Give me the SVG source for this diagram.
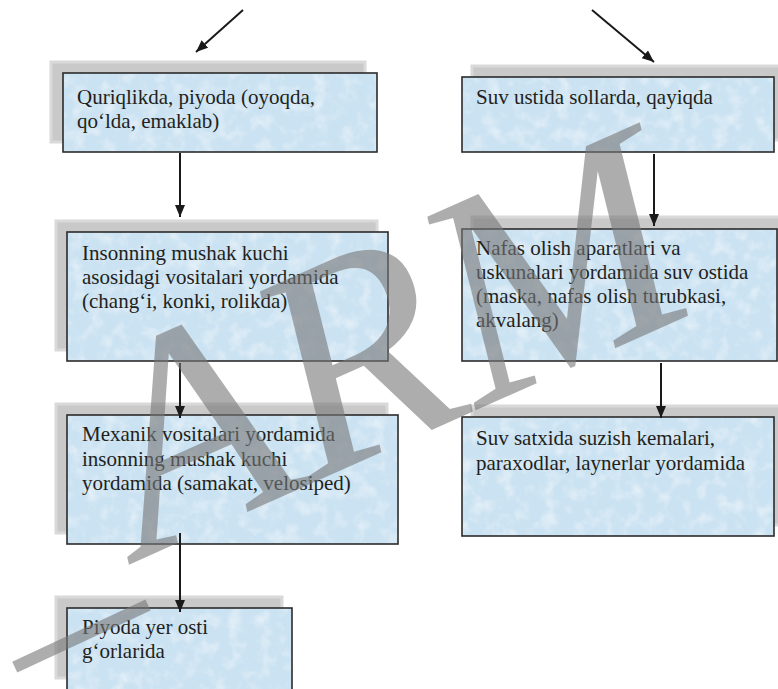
<svg xmlns="http://www.w3.org/2000/svg" width="778" height="689" viewBox="0 0 778 689">
<defs>
<style>
.shadow{fill:#c9c9c9;stroke:#d9d9d9;stroke-width:3}
.fillb{fill:#cae2f2}
.border{fill:none;stroke:#2b2b2b;stroke-width:1.6}
.t{font-family:"Liberation Serif","Times New Roman",serif;font-size:21px;fill:#231f20}
.conn{stroke:#1a1a1a;stroke-width:2;fill:none;marker-end:url(#ah)}
.wm{font-family:"Liberation Serif","Times New Roman",serif;font-style:italic;font-size:300px;fill:#777777;fill-opacity:0.6}
</style>
<marker id="ah" viewBox="0 0 12 10" refX="12" refY="5" markerWidth="12" markerHeight="10" markerUnits="userSpaceOnUse" orient="auto">
<path d="M0,0 L12,5 L0,10 z" fill="#1a1a1a"/>
</marker>
<filter id="tex" x="0" y="0" width="100%" height="100%">
<feTurbulence type="fractalNoise" baseFrequency="0.07" numOctaves="3" seed="4" result="n"/>
<feColorMatrix in="n" type="matrix" values="0 0 0 0 1  0 0 0 0 1  0 0 0 0 1  0 0 0 1.0 -0.45" result="w"/>
<feComposite in="w" in2="SourceGraphic" operator="in" result="wc"/>
<feMerge><feMergeNode in="SourceGraphic"/><feMergeNode in="wc"/></feMerge>
</filter>
</defs>
<rect width="778" height="689" fill="#ffffff"/>

<g id="node1">
<rect class="shadow" x="51" y="62" width="314" height="80"/>
<rect class="fillb" filter="url(#tex)" x="63" y="73" width="314" height="79"/>
<rect class="border" x="63" y="73" width="314" height="79"/>
<text class="t" x="77" y="104">Quriqlikda, piyoda (oyoqda,</text>
<text class="t" x="77" y="128">qo‘lda, emaklab)</text>
</g>

<g id="node2">
<rect class="shadow" x="472" y="66" width="312" height="74"/>
<rect class="fillb" filter="url(#tex)" x="462" y="77" width="312" height="75"/>
<rect class="border" x="462" y="77" width="312" height="75"/>
<text class="t" x="476" y="104">Suv ustida sollarda, qayiqda</text>
</g>

<g id="node3">
<rect class="shadow" x="56" y="221" width="321" height="129"/>
<rect class="fillb" filter="url(#tex)" x="67" y="232" width="321" height="129"/>
<rect class="border" x="67" y="232" width="321" height="129"/>
<text class="t" x="82" y="260">Insonning mushak kuchi</text>
<text class="t" x="82" y="284">asosidagi vositalari yordamida</text>
<text class="t" x="82" y="308">(chang‘i, konki, rolikda)</text>
</g>

<g id="node4">
<rect class="shadow" x="472" y="217" width="315" height="132"/>
<rect class="fillb" filter="url(#tex)" x="462" y="229" width="315" height="132"/>
<rect class="border" x="462" y="229" width="315" height="132"/>
<text class="t" x="476" y="255">Nafas olish aparatlari va</text>
<text class="t" x="476" y="279">uskunalari yordamida suv ostida</text>
<text class="t" x="476" y="303">(maska, nafas olish turubkasi,</text>
<text class="t" x="476" y="327">akvalang)</text>
</g>

<g id="node5">
<rect class="shadow" x="56" y="404" width="331" height="129"/>
<rect class="fillb" filter="url(#tex)" x="67" y="415" width="331" height="129"/>
<rect class="border" x="67" y="415" width="331" height="129"/>
<text class="t" x="82" y="441">Mexanik vositalari yordamida</text>
<text class="t" x="82" y="465.5">insonning mushak kuchi</text>
<text class="t" x="82" y="490">yordamida (samakat, velosiped)</text>
</g>

<g id="node6">
<rect class="shadow" x="472" y="406" width="312" height="119"/>
<rect class="fillb" filter="url(#tex)" x="462" y="417" width="312" height="119"/>
<rect class="border" x="462" y="417" width="312" height="119"/>
<text class="t" x="476" y="445">Suv satxida suzish kemalari,</text>
<text class="t" x="476" y="469.5">paraxodlar, laynerlar yordamida</text>
</g>

<g id="node7">
<rect class="shadow" x="56" y="597" width="226" height="81"/>
<rect class="fillb" filter="url(#tex)" x="67" y="608" width="225" height="84"/>
<rect class="border" x="67" y="608" width="225" height="84"/>
<text class="t" x="82" y="634">Piyoda yer osti</text>
<text class="t" x="82" y="658">g‘orlarida</text>
</g>

<g id="connectors">
<line class="conn" x1="243" y1="10" x2="196" y2="52"/>
<line class="conn" x1="592" y1="10" x2="654" y2="62"/>
<line class="conn" x1="180" y1="153" x2="180" y2="217"/>
<line class="conn" x1="180" y1="363" x2="180" y2="418"/>
<line class="conn" x1="180" y1="533" x2="180" y2="612"/>
<line class="conn" x1="654" y1="154" x2="654" y2="226"/>
<line class="conn" x1="661" y1="363" x2="661" y2="418"/>
</g>

<g id="watermark">
<text class="wm" transform="translate(144,558) rotate(-24)" x="0" y="0">ARM</text>
<rect transform="translate(148,605) rotate(-25)" x="-147" y="-6" width="147" height="12" fill="#777777" fill-opacity="0.6"/>
</g>
</svg>
